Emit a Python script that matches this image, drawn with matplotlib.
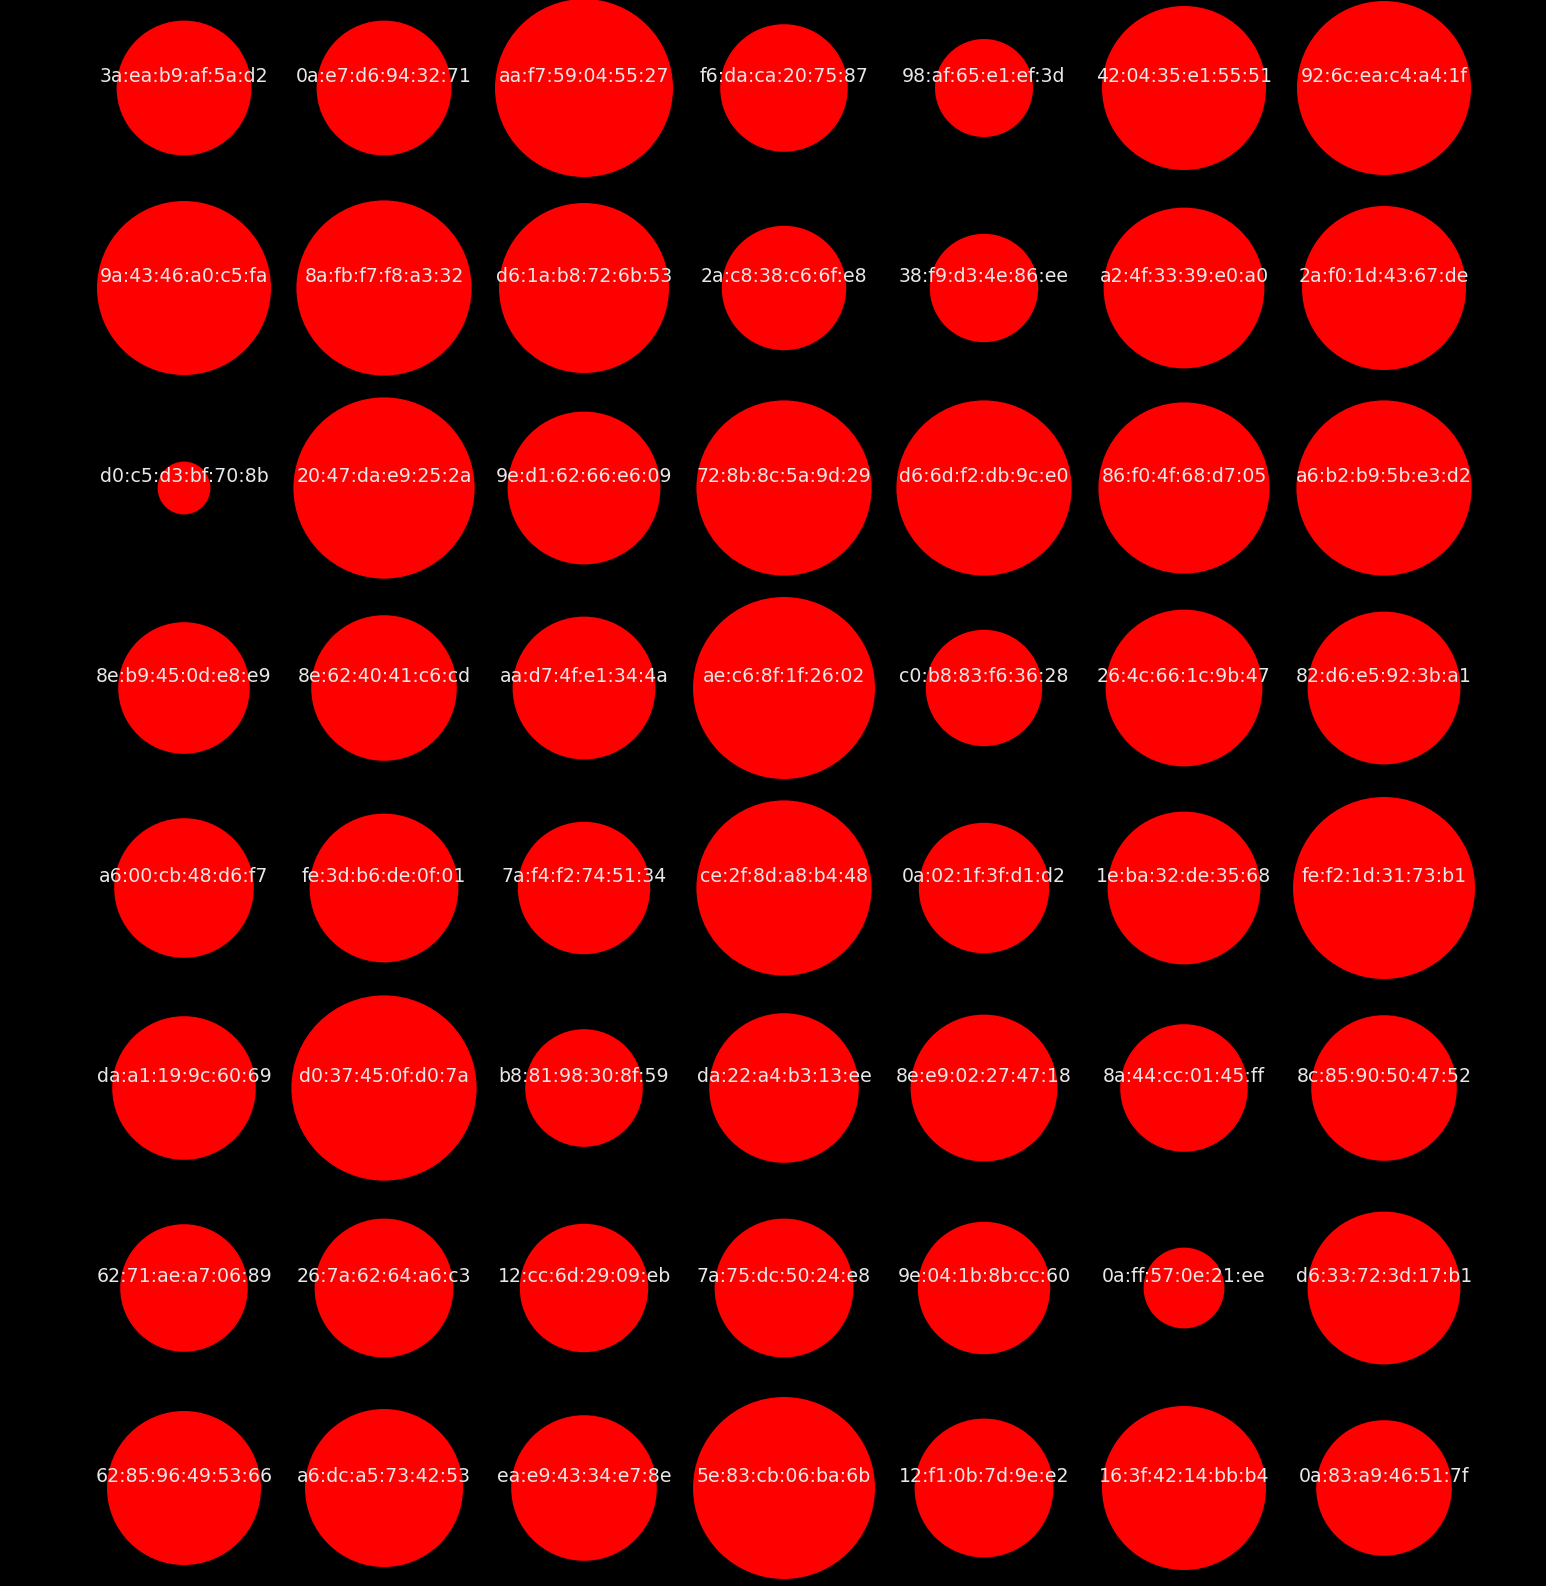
import matplotlib
matplotlib.use("Agg")
import matplotlib.pyplot as plt
from matplotlib.patches import Circle

n_cols = 7

labels = [
    "3a:ea:b9:af:5a:d2", "0a:e7:d6:94:32:71", "aa:f7:59:04:55:27", "f6:da:ca:20:75:87",
    "98:af:65:e1:ef:3d", "42:04:35:e1:55:51", "92:6c:ea:c4:a4:1f",
    "9a:43:46:a0:c5:fa", "8a:fb:f7:f8:a3:32", "d6:1a:b8:72:6b:53", "2a:c8:38:c6:6f:e8",
    "38:f9:d3:4e:86:ee", "a2:4f:33:39:e0:a0", "2a:f0:1d:43:67:de",
    "d0:c5:d3:bf:70:8b", "20:47:da:e9:25:2a", "9e:d1:62:66:e6:09", "72:8b:8c:5a:9d:29",
    "d6:6d:f2:db:9c:e0", "86:f0:4f:68:d7:05", "a6:b2:b9:5b:e3:d2",
    "8e:b9:45:0d:e8:e9", "8e:62:40:41:c6:cd", "aa:d7:4f:e1:34:4a", "ae:c6:8f:1f:26:02",
    "c0:b8:83:f6:36:28", "26:4c:66:1c:9b:47", "82:d6:e5:92:3b:a1",
    "a6:00:cb:48:d6:f7", "fe:3d:b6:de:0f:01", "7a:f4:f2:74:51:34", "ce:2f:8d:a8:b4:48",
    "0a:02:1f:3f:d1:d2", "1e:ba:32:de:35:68", "fe:f2:1d:31:73:b1",
    "da:a1:19:9c:60:69", "d0:37:45:0f:d0:7a", "b8:81:98:30:8f:59", "da:22:a4:b3:13:ee",
    "8e:e9:02:27:47:18", "8a:44:cc:01:45:ff", "8c:85:90:50:47:52",
    "62:71:ae:a7:06:89", "26:7a:62:64:a6:c3", "12:cc:6d:29:09:eb", "7a:75:dc:50:24:e8",
    "9e:04:1b:8b:cc:60", "0a:ff:57:0e:21:ee", "d6:33:72:3d:17:b1",
    "62:85:96:49:53:66", "a6:dc:a5:73:42:53", "ea:e9:43:34:e7:8e", "5e:83:cb:06:ba:6b",
    "12:f1:0b:7d:9e:e2", "16:3f:42:14:bb:b4", "0a:83:a9:46:51:7f",
]

radii = [
    0.337, 0.337, 0.445, 0.319, 0.245, 0.410, 0.435,
    0.435, 0.438, 0.425, 0.311, 0.271, 0.402, 0.410,
    0.132, 0.453, 0.382, 0.438, 0.438, 0.428, 0.438,
    0.329, 0.364, 0.357, 0.455, 0.291, 0.392, 0.382,
    0.349, 0.372, 0.331, 0.438, 0.326, 0.382, 0.455,
    0.359, 0.463, 0.294, 0.374, 0.367, 0.319, 0.364,
    0.319, 0.347, 0.321, 0.347, 0.331, 0.202, 0.382,
    0.385, 0.395, 0.364, 0.455, 0.347, 0.410, 0.339,
]

fig = plt.figure(figsize=(15.46, 15.86), dpi=100, facecolor="black")
ax = fig.add_axes([0, 0, 1, 1])
ax.set_facecolor("black")
ax.set_xlim(-0.92, 6.81)
ax.set_ylim(7.49, -0.44)
ax.set_aspect("equal")
ax.axis("off")

for i, (lab, r) in enumerate(zip(labels, radii)):
    row, col = divmod(i, n_cols)
    ax.add_patch(Circle((col, row), r, facecolor="#ff0000", edgecolor="none"))
    ax.text(col, row - 0.057, lab, color="#e8e8e8", fontsize=13.6,
            ha="center", va="center", family="DejaVu Sans")

fig.savefig("out.png", dpi=100, facecolor="black")
